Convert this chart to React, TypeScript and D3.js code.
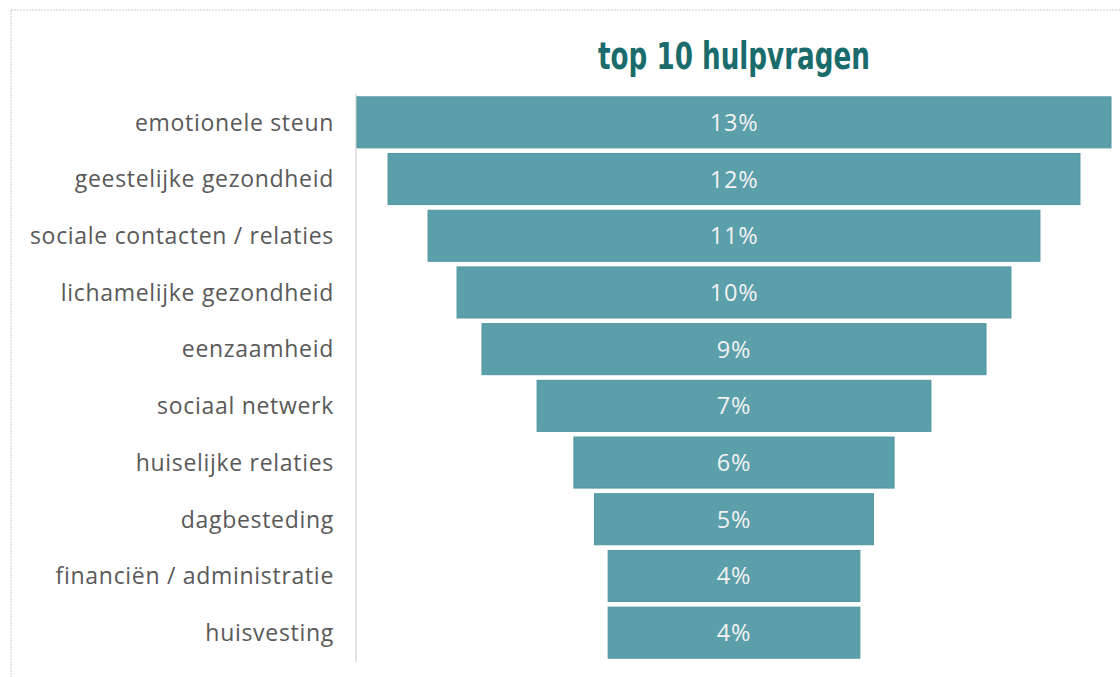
import React from "react";
import * as d3 from "d3";

const categories = [
  "emotionele steun",
  "geestelijke gezondheid",
  "sociale contacten / relaties",
  "lichamelijke gezondheid",
  "eenzaamheid",
  "sociaal netwerk",
  "huiselijke relaties",
  "dagbesteding",
  "financiën / administratie",
  "huisvesting",
];
const values = [13.0, 11.93, 10.55, 9.55, 8.69, 6.79, 5.52, 4.81, 4.34, 4.34];
const title = "top 10 hulpvragen";

export default function App() {
  const W = 1120;
  const H = 677;
  const cx = 734;
  const y = d3.scaleBand<string>().domain(categories).range([94, 661]).paddingInner(0.1).paddingOuter(0.05);
  const w = d3.scaleLinear().domain([0, 13]).range([0, 754]);
  const font = "'Open Sans', Lato, sans-serif";
  return (
    <svg width={W} height={H} style={{ position: "absolute", left: 0, top: 0 }}>
      <rect x={0} y={0} width={W} height={H} fill="#fff" />
      <line x1={11} y1={10} x2={W} y2={10} stroke="#dcdcdc" strokeWidth={1.5} strokeDasharray="2 1" />
      <line x1={11} y1={10} x2={11} y2={H} stroke="#dcdcdc" strokeWidth={1.5} strokeDasharray="2 1" />
      <text
        x={cx}
        y={69}
        textAnchor="middle"
        fill="#1a6b6b"
        fontFamily="'DejaVu Sans Condensed', 'DejaVu Sans', sans-serif"
        fontStretch="condensed"
        fontWeight="bold"
        fontSize={37}
        textLength={272}
        lengthAdjust="spacingAndGlyphs"
      >
        {title}
      </text>
      <line x1={356} y1={94} x2={356} y2={662} stroke="#d9d9d9" strokeWidth={1.5} />
      {categories.map((c, i) => {
        const bw = w(values[i]);
        const yy = y(c)!;
        const bh = y.bandwidth();
        return (
          <g key={c}>
            <rect x={cx - bw / 2} y={yy} width={bw} height={bh} fill="#5b9faa" stroke="#4f95a0" strokeWidth={1} />
            <text x={cx} y={yy + bh / 2} dy="0.36em" textAnchor="middle" fill="#f2f2f2" fontFamily={font} fontSize={23.5} letterSpacing={0.8}>
              {Math.round(values[i])}%
            </text>
            <text x={334} y={yy + bh / 2} dy="0.36em" textAnchor="end" fill="#595959" fontFamily={font} fontSize={23} letterSpacing={0.7}>
              {c}
            </text>
          </g>
        );
      })}
    </svg>
  );
}
